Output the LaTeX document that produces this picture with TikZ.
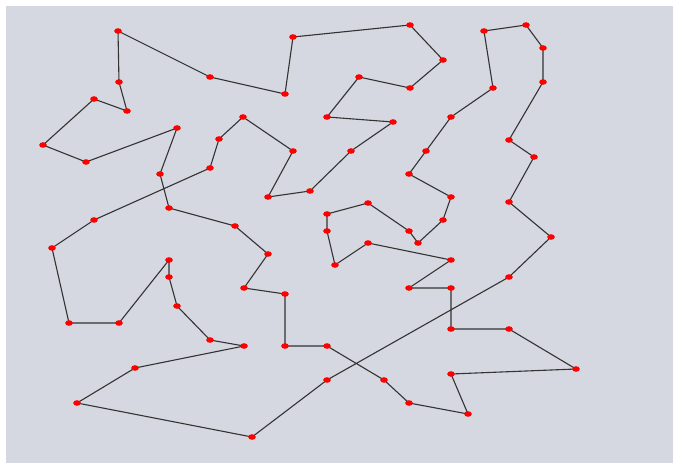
\documentclass[tikz,border=0pt]{standalone}
\definecolor{bg}{RGB}{213,216,224}
\begin{document}
\begin{tikzpicture}[x=1pt,y=-1pt,
  tour/.style={draw=black!80,line width=1.1pt,line join=round},
  city/.style={fill=red}]
\useasboundingbox (0,0) rectangle (673,463);
\fill[white] (0,0) rectangle (673,463);
\fill[bg] (6,6) rectangle (673,463);
\foreach \n/\x/\y in {
 1/327/380, 2/252/437, 3/77/403, 4/135/368, 5/244/346, 6/210/340, 7/177/306, 8/169/277,
 9/169/260, 10/119/323, 11/69/323, 12/52/248, 13/94/220, 14/210/168, 15/219/139, 16/243/117,
 17/293/151, 18/268/197, 19/310/191, 20/351/151, 21/393/122, 22/327/117, 23/359/77, 24/410/88,
 25/443/60, 26/410/25, 27/293/37, 28/285/94, 29/210/77, 30/118/31, 31/119/82, 32/127/111,
 33/94/99, 34/43/145, 35/86/162, 36/177/128, 37/160/174, 38/169/208, 39/235/226, 40/268/254,
 41/244/288, 42/285/294, 43/285/346, 44/327/346, 45/384/380, 46/409/403, 47/468/414, 48/451/374,
 49/576/369, 50/509/329, 51/451/329, 52/451/288, 53/409/288, 54/451/260, 55/368/243, 56/335/265,
 57/327/231, 58/327/214, 59/368/203, 60/409/231, 61/418/243, 62/443/220, 63/451/197, 64/409/174,
 65/426/151, 66/451/117, 67/493/88, 68/484/31, 69/526/25, 70/543/48, 71/543/82, 72/509/140,
 73/534/157, 74/509/202, 75/551/237, 76/509/277}
  \coordinate (p\n) at (\x,\y);
\draw[tour] (p1) \foreach \i in {2,...,76} { -- (p\i) } -- cycle;
\foreach \i in {1,...,76} \fill[city] (p\i) ellipse (3.8 and 2.8);
\end{tikzpicture}
\end{document}
